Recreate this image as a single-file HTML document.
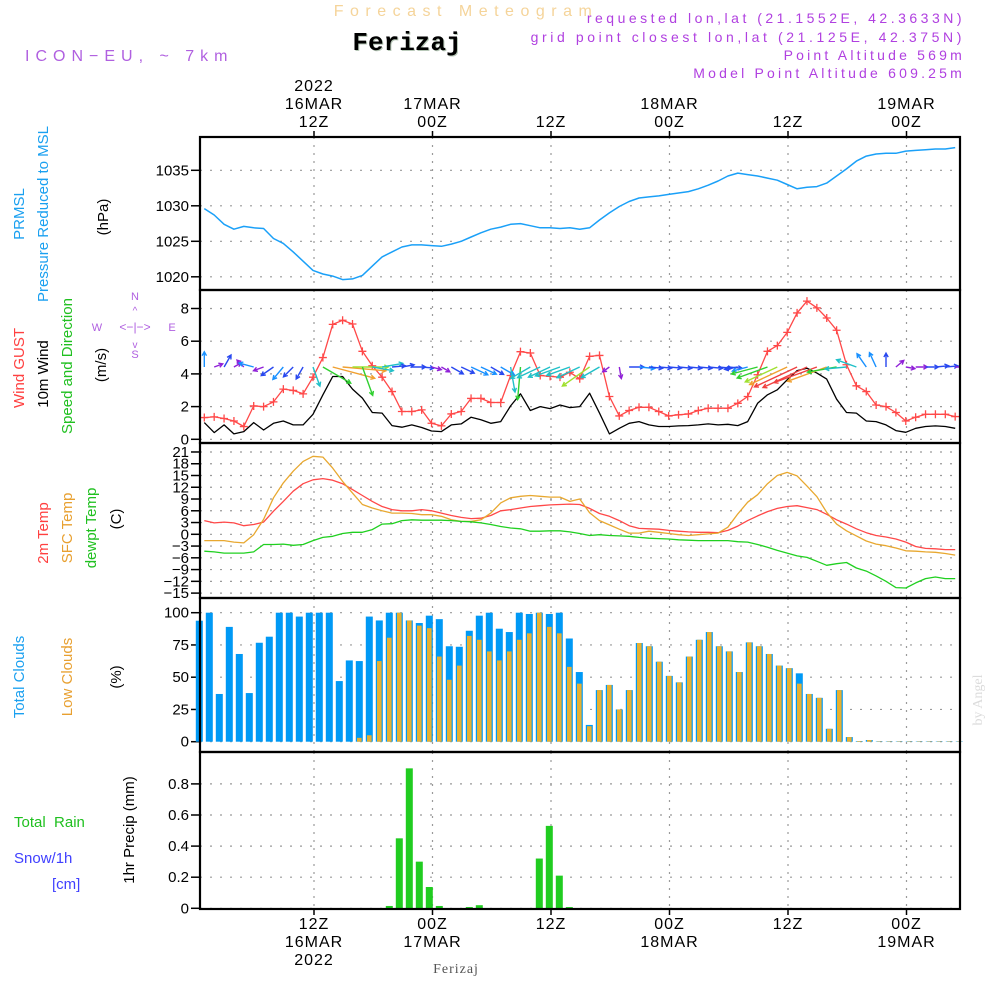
<!DOCTYPE html>
<html><head><meta charset="utf-8"><title>Ferizaj Meteogram</title>
<style>
html,body{margin:0;padding:0;background:#fff;}
svg{display:block;font-family:"Liberation Sans",sans-serif;}
</style></head>
<body>
<svg id="chart" width="1000" height="1000" viewBox="0 0 1000 1000" xmlns="http://www.w3.org/2000/svg">
<defs><clipPath id="windclip"><rect x="200" y="290" width="760" height="153"/></clipPath></defs>
<rect x="0" y="0" width="1000" height="1000" fill="#fff"/>
<g>
<text x="466" y="16" text-anchor="middle" font-size="16" letter-spacing="6.5" fill="#f5d49a">Forecast Meteogram</text>
<text x="408" y="51" text-anchor="middle" font-size="26" font-weight="bold" font-family="Liberation Mono, monospace" fill="#b8c8b8">Ferizaj</text>
<text x="407" y="50" text-anchor="middle" font-size="26" font-weight="bold" font-family="Liberation Mono, monospace" fill="#000">Ferizaj</text>
<text x="25" y="61" font-size="16" letter-spacing="6" fill="#b060e0">ICON−EU, ~ 7km</text>
<text x="965" y="23" text-anchor="end" font-size="14" letter-spacing="3.5" fill="#b040e0">requested lon,lat (21.1552E, 42.3633N)</text>
<text x="965" y="42" text-anchor="end" font-size="14" letter-spacing="3.6" fill="#b040e0">grid point closest lon,lat (21.125E, 42.375N)</text>
<text x="965" y="60" text-anchor="end" font-size="14" letter-spacing="3.2" fill="#b040e0">Point Altitude 569m</text>
<text x="965" y="78" text-anchor="end" font-size="14" letter-spacing="3.2" fill="#b040e0">Model Point Altitude 609.25m</text>
</g>
<g font-size="15">
<text transform="translate(24,214) rotate(-90)" text-anchor="middle" fill="#1aa0f0">PRMSL</text>
<text transform="translate(48,214) rotate(-90)" text-anchor="middle" fill="#1aa0f0">Pressure Reduced to MSL</text>
<text transform="translate(108,217) rotate(-90)" text-anchor="middle" fill="#000">(hPa)</text>
<text transform="translate(24,368) rotate(-90)" text-anchor="middle" fill="#ff4040">Wind GUST</text>
<text transform="translate(48,374) rotate(-90)" text-anchor="middle" fill="#000">10m Wind</text>
<text transform="translate(72,366) rotate(-90)" text-anchor="middle" fill="#20c020">Speed and Direction</text>
<text transform="translate(106,365) rotate(-90)" text-anchor="middle" fill="#000">(m/s)</text>
<g fill="#b060e0" font-size="11">
<text x="135" y="300" text-anchor="middle">N</text>
<text x="135" y="358" text-anchor="middle">S</text>
<text x="97" y="331" text-anchor="middle">W</text>
<text x="172" y="331" text-anchor="middle">E</text>
<text x="135" y="331" text-anchor="middle" font-size="12">&lt;−|−&gt;</text>
<text x="135" y="314" text-anchor="middle" font-size="10">^</text>
<text x="135" y="348" text-anchor="middle" font-size="10">v</text>
</g>
<text transform="translate(48,533) rotate(-90)" text-anchor="middle" fill="#ff4040">2m Temp</text>
<text transform="translate(72,528) rotate(-90)" text-anchor="middle" fill="#e8a030">SFC Temp</text>
<text transform="translate(96,528) rotate(-90)" text-anchor="middle" fill="#20c020">dewpt Temp</text>
<text transform="translate(121,519) rotate(-90)" text-anchor="middle" fill="#000">(C)</text>
<text transform="translate(24,677) rotate(-90)" text-anchor="middle" fill="#1aa0f0">Total Clouds</text>
<text transform="translate(72,677) rotate(-90)" text-anchor="middle" fill="#e8a030">Low Clouds</text>
<text transform="translate(121,677) rotate(-90)" text-anchor="middle" fill="#000">(%)</text>
<text x="14" y="827" fill="#20c020" xml:space="preserve">Total  Rain</text>
<text x="14" y="863" fill="#4040ff">Snow/1h</text>
<text x="52" y="889" fill="#4040ff">[cm]</text>
<text transform="translate(134,830) rotate(-90)" text-anchor="middle" fill="#000">1hr Precip (mm)</text>
</g>
<text transform="translate(982,700) rotate(-90)" text-anchor="middle" font-size="14" font-family="Liberation Serif, serif" fill="#dcdcdc">by Angel</text>
<text x="456" y="973" text-anchor="middle" font-size="14" font-family="Liberation Serif, serif" letter-spacing="1" fill="#555">Ferizaj</text>
<g id="plots"></g>
</svg>
<script>
// ---------- data ----------
const timeTickHours = [12, 24, 36, 48, 60, 72];
const topTickLabels = [["2022","16MAR","12Z"],["17MAR","00Z"],["12Z"],["18MAR","00Z"],["12Z"],["19MAR","00Z"]];
const bottomTickLabels = [["12Z","16MAR","2022"],["00Z","17MAR"],["12Z"],["00Z","18MAR"],["12Z"],["00Z","19MAR"]];
const pressureTicks = [1020, 1025, 1030, 1035];
const windTicks = [0, 2, 4, 6, 8];
const tempTicks = [21,18,15,12,9,6,3,0,-3,-6,-9,-12,-15];
const cloudTicks = [0, 25, 50, 75, 100];
const precipTicks = [0, 0.2, 0.4, 0.6, 0.8];
const pressure = [1029.6,1028.7,1027.4,1026.7,1027.1,1026.9,1026.8,1025.4,1024.7,1023.5,1022.2,1020.9,1020.4,1020.1,1019.6,1019.7,1020.2,1021.5,1022.8,1023.5,1024.2,1024.5,1024.5,1024.4,1024.3,1024.6,1025.0,1025.6,1026.2,1026.7,1027.0,1027.4,1027.5,1027.2,1026.9,1026.9,1026.8,1026.9,1026.7,1026.9,1028.0,1029.0,1029.9,1030.6,1031.1,1031.25,1031.4,1031.6,1031.8,1032.0,1032.4,1032.9,1033.5,1034.2,1034.6,1034.4,1034.2,1033.9,1033.6,1033.0,1032.4,1032.6,1032.7,1033.2,1034.2,1035.2,1036.3,1037.0,1037.3,1037.4,1037.4,1037.7,1037.8,1037.9,1038.0,1038.0,1038.2];
const windGust = [1.33,1.37,1.27,1.12,0.78,2.04,2.0,2.29,3.07,2.99,2.78,3.8,5.0,7.03,7.28,7.05,5.38,4.5,3.8,2.92,1.7,1.7,1.8,0.98,0.82,1.55,1.7,2.5,2.5,2.25,2.25,3.9,5.36,5.28,3.9,3.85,3.8,4.1,3.7,5.07,5.13,2.62,1.43,1.76,1.96,1.96,1.7,1.43,1.5,1.55,1.76,1.9,1.9,1.9,2.2,2.62,3.95,5.38,5.73,6.54,7.73,8.45,8.04,7.42,6.67,4.56,3.27,2.92,2.1,2.0,1.64,1.12,1.35,1.53,1.53,1.53,1.39];
const windSpeed = [1.02,0.41,0.88,0.33,0.47,1.02,0.57,0.98,1.12,0.88,0.88,1.53,2.72,3.84,3.84,3.07,2.52,1.64,1.6,0.84,0.74,0.88,0.72,0.51,0.47,0.88,0.94,1.35,1.19,0.98,1.08,2.04,2.78,1.76,2.0,1.88,2.1,1.94,2.0,2.82,1.6,0.33,0.67,0.98,1.08,0.88,0.78,0.78,0.82,0.84,0.88,0.94,0.88,0.92,0.84,1.08,2.2,2.72,3.03,3.64,4.2,4.35,4.05,3.68,2.45,1.64,1.6,1.12,1.08,0.88,0.53,0.43,0.67,0.78,0.82,0.78,0.67];
const windDir = [90,20,60,30,135,165,200,215,230,225,240,290,330,345,355,0,290,350,10,5,10,0,355,345,330,330,335,335,335,330,330,280,265,210,205,205,200,200,205,215,210,215,280,0,355,355,355,355,355,355,355,355,355,355,190,195,195,200,205,205,205,205,200,200,190,185,160,125,115,90,40,350,0,0,5,5,0];
const temp2m = [3.5,2.9,3.1,2.9,2.2,2.5,3.1,5.9,8.4,11,12.9,13.9,14.2,13.8,12.9,11.4,9.9,8.4,7.1,6.3,6.0,6.0,6.3,6.0,5.4,4.8,4.3,4.0,4.1,4.8,6.0,6.3,6.7,7.1,7.3,7.5,7.6,7.7,7.6,6.6,5.3,4.6,3.5,2.2,1.5,1.4,1.3,1.0,0.8,0.6,0.5,0.5,0.4,1.0,2.1,3.5,4.7,5.8,6.6,7.1,7.3,6.8,6.3,5.1,3.7,2.6,1.4,0.4,-0.3,-0.7,-1.2,-2.0,-3.1,-3.6,-3.7,-3.9,-3.9];
const tempSfc = [-1.6,-1.6,-1.6,-2.0,-2.2,-0.1,3.8,9.3,13.1,16.1,18.6,19.9,19.7,16.9,13.5,10.5,7.6,6.7,6.0,5.4,5.4,5.3,5.0,5.0,4.6,3.7,3.3,3.3,3.7,5.4,8.0,9.3,9.7,9.9,9.7,9.5,9.5,8.4,9.0,5.5,3.5,2.4,1.3,0.3,0.3,0.8,0.5,0.2,-0.1,-0.3,-0.1,0.1,0.3,1.8,5.2,8.2,10.1,12.9,15.0,15.8,14.9,12.3,9.6,5.6,2.6,0.9,-0.4,-1.7,-2.5,-2.9,-3.5,-4.2,-4.3,-4.5,-4.6,-4.9,-5.3];
const dewpoint = [-4.3,-4.5,-4.8,-4.8,-4.8,-4.5,-2.6,-2.6,-2.5,-2.8,-2.6,-1.6,-0.8,-0.5,0.2,0.5,0.5,1.2,2.6,2.7,3.5,3.7,3.6,3.6,3.6,3.5,3.3,3.2,2.9,2.5,2.0,1.6,1.4,0.8,0.8,0.9,0.9,0.6,0.2,-0.3,-0.1,-0.3,-0.4,-0.5,-0.8,-1.0,-1.1,-1.2,-1.4,-1.5,-1.6,-1.6,-1.6,-1.6,-1.9,-2.0,-2.6,-3.3,-4.1,-4.8,-5.5,-5.9,-6.9,-7.9,-7.5,-7.2,-8.6,-9.4,-10.6,-12.0,-13.6,-13.7,-12.4,-11.3,-10.9,-11.3,-11.3];
const totalClouds = [93.8,100,37,89,68,37.7,76.7,81.4,100,100,97,100,100,100,47,63,62.5,97,94,100,100,94,92,97.7,95,74,73.6,86,97.7,100,87.6,85,100,99,100,99,100,80,54,13,40,44,25,40,76.5,74,62,51,46,66,79,85,74,70,54,77,74,68,59,57,53,37,34,10,40,3.6,0.5,1.3,0.3,0.3,0.3,0.3,0.3,0.3,0.3,0.3,0.3];
const lowClouds = [0,0,0,0,0,0,0,0,0,0,0,0,0,0,0,0,3,5,62.5,80.6,100,94,90,88,66,48,59,82,79,70,63,70,79,84,100,89,84,58,45,12,40,44,25,40,76.5,74,62,51,46,66,79,85,74,70,54,77,74,68,59,57,45,37,34,10,40,3.6,0.5,1.3,0.3,0.3,0.3,0.3,0.3,0.3,0.3,0.3,0.3];
const precipHours = [19,20,21,22,23,24,27,28,34,35,36,37];
const precipValues = [0.015,0.45,0.9,0.30,0.137,0.015,0.008,0.02,0.32,0.53,0.21,0.008];

// ---------- axis functions ----------
const X0 = 200, X1 = 960;
const hourX = h => 314 + (h - 12) * 9.875;
const lineX = i => 204.3 + i * 9.88;
const barX = i => 199.3 + i * 10;
const pY = v => 170.3 + (1035 - v) * 7.1;
const wY = v => 439.3 - v * 16.35;
const tY = v => 534.3 - v * 3.92;
const cY = v => 741.7 - v * 1.29;
const rY = v => 908.3 - v * 155.5;
const panels = [[137,290],[290,443],[443,598],[598,752],[752,909]];

const NS = "http://www.w3.org/2000/svg";
const root = document.getElementById('plots');
function mk(tag, attrs, parent){ const e = document.createElementNS(NS, tag); for (const k in attrs) e.setAttribute(k, attrs[k]); (parent||root).appendChild(e); return e; }

panels.forEach((p, pi) => {
  const g = mk('g', {});
  
  
  timeTickHours.forEach(h => {
    const l = mk('line', {x1: hourX(h), x2: hourX(h), y1: p[0], y2: p[1], stroke: '#9a9a9a', 'stroke-width': 1.2, 'stroke-dasharray': '2,6'}, g);
    
    
  });
});
function hgrid(ticks, fy, fmt, name){
  const g = mk('g', {});
  
  
  ticks.forEach(v => {
    const y = fy(v);
    const gl = mk('line', {x1: X0, x2: X1, y1: y, y2: y, stroke: '#9a9a9a', 'stroke-width': 1.2, 'stroke-dasharray': '2,8'}, g);
    
    
    const tk = mk('line', {x1: 191, x2: 200, y1: y, y2: y, stroke: '#000', 'stroke-width': 1.5}, g);
    
    
    const t = mk('text', {x: 189, y: y + 5, 'text-anchor': 'end', 'font-size': 15, fill: '#000'}, g);
    t.textContent = fmt(v);
    
    
  });
}
hgrid(pressureTicks, pY, v => String(v), 'pressure');
hgrid(windTicks, wY, v => String(v), 'wind');
hgrid(tempTicks, tY, v => (v < 0 ? '\u2212' + (-v) : String(v)), 'temp');
hgrid(cloudTicks, cY, v => String(v), 'cloud');
hgrid(precipTicks, rY, v => (v === 0 ? '0' : v.toFixed(1)), 'precip');

timeTickHours.forEach((h, k) => {
  const x = hourX(h);
  const tt = mk('line', {x1: x, x2: x, y1: 131, y2: 137, stroke: '#000', 'stroke-width': 1.5});
  
  
  const bt = mk('line', {x1: x, x2: x, y1: 909, y2: 915, stroke: '#000', 'stroke-width': 1.5});
  
  
  const top = topTickLabels[k];
  top.forEach((s, j) => {
    const t = mk('text', {x: x, y: 127 - (top.length - 1 - j) * 18, 'text-anchor': 'middle', 'font-size': 16, fill: '#000', 'letter-spacing': 1});
    t.textContent = s;
    
    
  });
  bottomTickLabels[k].forEach((s, j) => {
    const t = mk('text', {x: x, y: 929 + j * 18, 'text-anchor': 'middle', 'font-size': 16, fill: '#000', 'letter-spacing': 1});
    t.textContent = s;
    
    
  });
});

function polyline(vals, fx, fy, color, name, w){
  const pts = vals.map((v, i) => fx(i).toFixed(1) + ',' + fy(v).toFixed(1)).join(' ');
  const pl = mk('polyline', {points: pts, fill: 'none', stroke: color, 'stroke-width': w || 1.3, 'stroke-linejoin': 'round'});
  
  
  return pl;
}

polyline(pressure, lineX, pY, '#1aa0f8', 'pressure-line', 1.5);

totalClouds.forEach((v, i) => {
  const r = mk('rect', {x: barX(i) - 3.5, y: cY(v), width: 7, height: Math.max(0, cY(0) - cY(v)), fill: '#0099f5'});
  
  
});
lowClouds.forEach((v, i) => {
  const r = mk('rect', {x: barX(i) - 2.3, y: cY(v), width: 4.6, height: Math.max(0, cY(0) - cY(v)), fill: '#e8b030'});
  
  
});

precipHours.forEach((h, k) => {
  const v = precipValues[k];
  const r = mk('rect', {x: barX(h) - 3.5, y: rY(v), width: 7, height: Math.max(0, rY(0) - rY(v)), fill: '#20cc20'});
  
  
});

polyline(temp2m, lineX, tY, '#ff4848', 'temp-2m-line');
polyline(tempSfc, lineX, tY, '#e8a830', 'temp-sfc-line');
polyline(dewpoint, lineX, tY, '#20d020', 'dewpoint-line');

polyline(windSpeed, lineX, wY, '#000', 'wind-speed-line');
polyline(windGust, lineX, wY, '#ff4848', 'wind-gust-line');
windGust.forEach((v, i) => {
  const x = lineX(i), y = wY(v);
  const m = mk('path', {d: `M${x-4},${y}H${x+4}M${x},${y-4}V${y+4}`, stroke: '#ff4848', 'stroke-width': 1.3});
  
  
});
function windColor(s){
  if (s < 0.7) return '#9020d8';
  if (s < 1.0) return '#2848f0';
  if (s < 1.5) return '#1890ff';
  if (s < 2.2) return '#20c0c8';
  if (s < 2.8) return '#30d030';
  if (s < 3.3) return '#a0e030';
  if (s < 4.0) return '#f0a030';
  return '#f04040';
}
const arrowGroup = mk('g', {'clip-path': 'url(#windclip)'});


windDir.forEach((d, i) => {
  const s = windSpeed[i];
  const len = 5 + 10 * s;
  const a = d * Math.PI / 180;
  const x0 = lineX(i), y0 = 367;
  const x1 = x0 + Math.cos(a) * len, y1 = y0 - Math.sin(a) * len;
  const h = 4.5, b1 = a + Math.PI - 0.5, b2 = a + Math.PI + 0.5;
  const dpath = `M${x0.toFixed(1)},${y0}L${x1.toFixed(1)},${y1.toFixed(1)}M${(x1+Math.cos(b1)*h).toFixed(1)},${(y1-Math.sin(b1)*h).toFixed(1)}L${x1.toFixed(1)},${y1.toFixed(1)}L${(x1+Math.cos(b2)*h).toFixed(1)},${(y1-Math.sin(b2)*h).toFixed(1)}`;
  const p = mk('path', {d: dpath, stroke: windColor(s), 'stroke-width': 1.4, fill: 'none'}, arrowGroup);
  
  
});

panels.forEach(p => {
  const r = mk('rect', {x: X0, y: p[0], width: X1 - X0, height: p[1] - p[0], fill: 'none', stroke: '#000', 'stroke-width': 2.2});
  
  
});
</script>
</body></html>
